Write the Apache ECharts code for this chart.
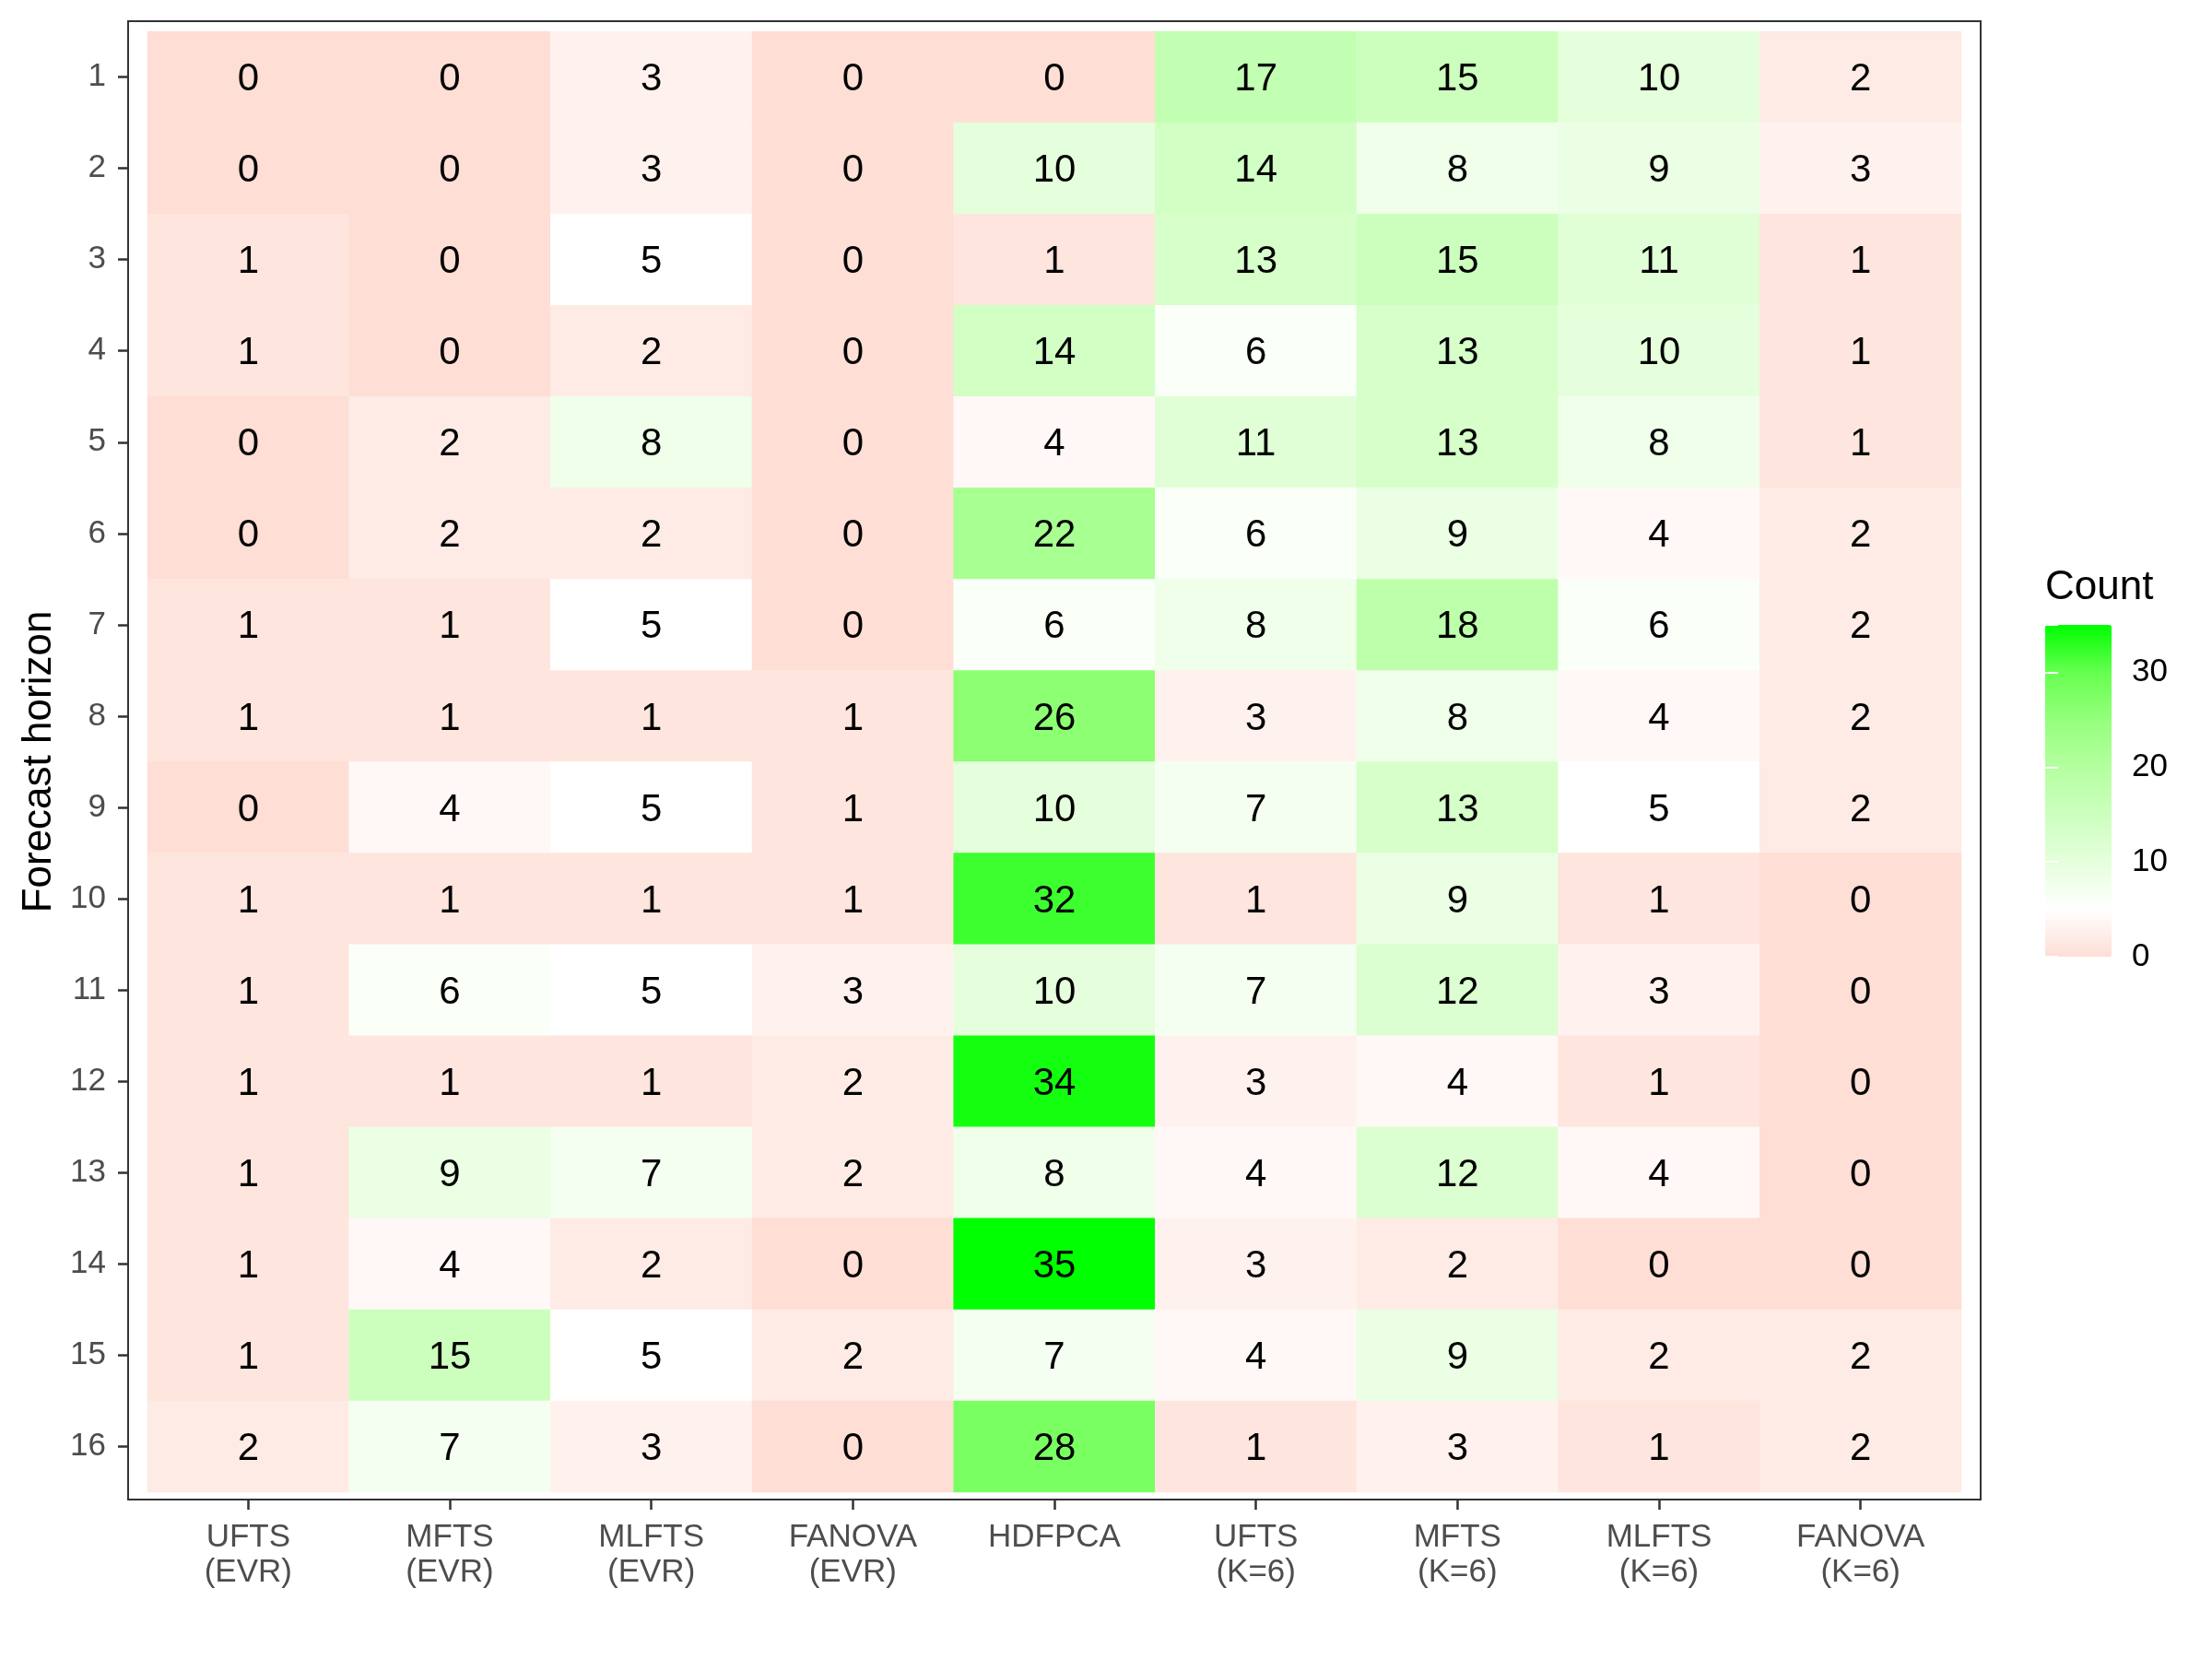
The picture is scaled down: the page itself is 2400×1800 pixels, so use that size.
<!DOCTYPE html>
<html>
<head>
<meta charset="utf-8">
<script src="https://cdn.jsdelivr.net/npm/echarts@6/dist/echarts.min.js"></script>
<style>
  html, body { margin: 0; padding: 0; background: #fff; }
  #main { width: 2400px; height: 1800px; }
</style>
</head>
<body>
<div id="main"></div>
<script>
// methods on x, forecast horizons on y
var methods = ['UFTS\n(EVR)', 'MFTS\n(EVR)', 'MLFTS\n(EVR)', 'FANOVA\n(EVR)', 'HDFPCA',
               'UFTS\n(K=6)', 'MFTS\n(K=6)', 'MLFTS\n(K=6)', 'FANOVA\n(K=6)'];
var horizons = ['1','2','3','4','5','6','7','8','9','10','11','12','13','14','15','16'];

// counts per method, horizon 1..16
var uftsEvr   = [0,0,1,1,0,0,1,1,0,1,1,1,1,1,1,2];
var mftsEvr   = [0,0,0,0,2,2,1,1,4,1,6,1,9,4,15,7];
var mlftsEvr  = [3,3,5,2,8,2,5,1,5,1,5,1,7,2,5,3];
var fanovaEvr = [0,0,0,0,0,0,0,1,1,1,3,2,2,0,2,0];
var hdfpca    = [0,10,1,14,4,22,6,26,10,32,10,34,8,35,7,28];
var uftsK6    = [17,14,13,6,11,6,8,3,7,1,7,3,4,3,4,1];
var mftsK6    = [15,8,15,13,13,9,18,8,13,9,12,4,12,2,9,3];
var mlftsK6   = [10,9,11,10,8,4,6,4,5,1,3,1,4,0,2,1];
var fanovaK6  = [2,3,1,1,1,2,2,2,2,0,0,0,0,0,2,2];

var legendTicks = [0, 10, 20, 30];

var columns = [uftsEvr, mftsEvr, mlftsEvr, fanovaEvr, hdfpca, uftsK6, mftsK6, mlftsK6, fanovaK6];
var data = [];
for (var i = 0; i < columns.length; i++) {
    for (var j = 0; j < horizons.length; j++) {
        data.push([i, j, columns[i][j]]);
    }
}

var font = 'Liberation Sans, Arial, Helvetica, sans-serif';
var chart = echarts.init(document.getElementById('main'));

var option = {
    backgroundColor: '#ffffff',
    animation: false,
    textStyle: { fontFamily: font },
    grid: [
        // panel border
        { left: 139, top: 23, width: 2010, height: 1604, show: true, outerBoundsMode: 'none',
          borderColor: '#333333', borderWidth: 2, backgroundColor: 'transparent' },
        // tiles
        { left: 160, top: 34, width: 1968, height: 1585, outerBoundsMode: 'none' },
        // colour bar
        { left: 2219, top: 678, width: 72, height: 360, outerBoundsMode: 'none' }
    ],
    xAxis: [
        { gridIndex: 0, type: 'value', min: 0, max: 1, show: false },
        {
            gridIndex: 1, type: 'category', data: methods, offset: 8,
            axisLine: { show: true, lineStyle: { color: '#333333', width: 2 } },
            axisTick: { show: true, alignWithLabel: true, length: 11, lineStyle: { color: '#333333', width: 2.5 } },
            axisLabel: { fontSize: 35, color: '#4D4D4D', lineHeight: 38, margin: 22, fontFamily: font, interval: 0 },
            splitLine: { show: false }
        },
        { gridIndex: 2, type: 'value', min: 0, max: 1, show: false }
    ],
    yAxis: [
        { gridIndex: 0, type: 'value', min: 0, max: 1, show: false },
        {
            gridIndex: 1, type: 'category', data: horizons, inverse: true, offset: 21,
            name: 'Forecast horizon', nameLocation: 'middle', nameGap: 73,
            nameTextStyle: { fontSize: 44, color: '#000000', fontFamily: font },
            axisLine: { show: true, lineStyle: { color: '#333333', width: 2 } },
            axisTick: { show: true, alignWithLabel: true, length: 11, lineStyle: { color: '#333333', width: 2.5 } },
            axisLabel: { fontSize: 35, color: '#4D4D4D', margin: 24, fontFamily: font, interval: 0,
                         padding: [5, 0, 0, 0] },
            splitLine: { show: false }
        },
        {
            gridIndex: 2, type: 'value', min: 0, max: 35, interval: 10, position: 'right', z: 10,
            axisLine: { show: false },
            axisTick: { inside: true, length: 14, lineStyle: { color: '#ffffff', width: 2 } },
            axisLabel: { fontSize: 35, color: '#000000', margin: 22, fontFamily: font,
                         customValues: legendTicks },
            splitLine: { show: false }
        },
        {
            gridIndex: 2, type: 'value', min: 0, max: 35, interval: 10, position: 'left', z: 10,
            axisLine: { show: false },
            axisTick: { inside: true, length: 14, lineStyle: { color: '#ffffff', width: 2 } },
            axisLabel: { show: false },
            splitLine: { show: false }
        }
    ],
    visualMap: {
        type: 'continuous', min: 0, max: 35, seriesIndex: 0,
        calculable: false, realtime: false, hoverLink: false,
        left: 2219, top: 678, itemWidth: 72, itemHeight: 360, padding: 0, z: 2,
        inRange: { color: ['#FEDED5', '#FFFFFF', '#E5FFDC', '#CCFFBE', '#B4FFA0', '#95FF7C', '#66FF50', '#00FF00'] },
        text: null, showLabel: false
    },
    graphic: [
        { type: 'text', left: 2219, top: 616,
          style: { text: 'Count', fontSize: 44, fill: '#000000', fontFamily: font } }
    ],
    series: [
        {
            type: 'heatmap', xAxisIndex: 1, yAxisIndex: 1, data: data,
            label: {
                show: true, fontSize: 42, color: '#000000', fontFamily: font, offset: [0, 3],
                formatter: function (p) { return p.value[2]; }
            },
            itemStyle: { borderWidth: 0 }
        }
    ]
};

chart.setOption(option);
</script>
</body>
</html>
